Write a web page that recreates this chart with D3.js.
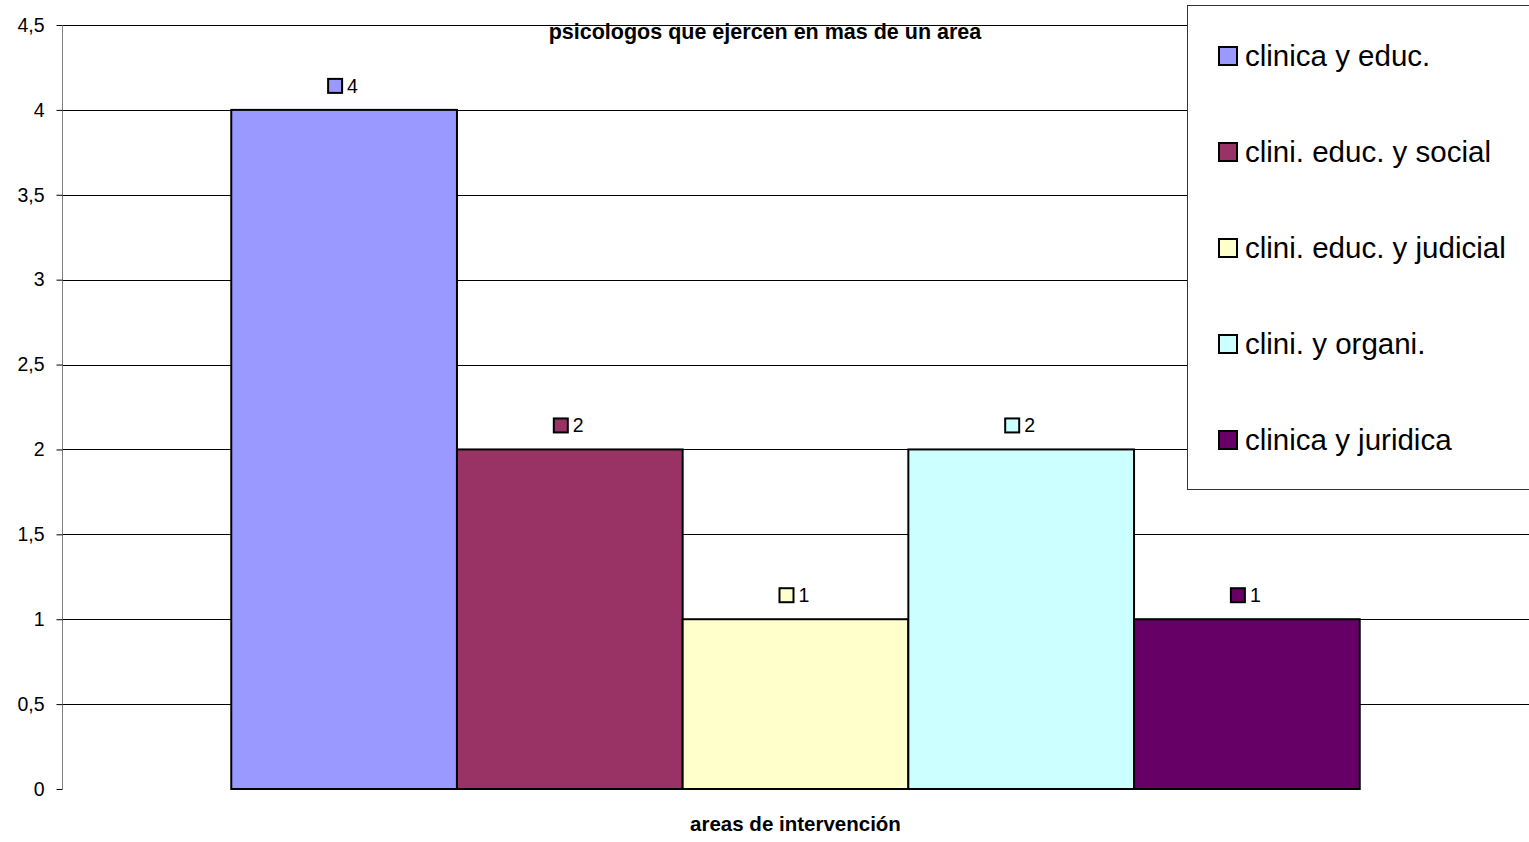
<!DOCTYPE html>
<meta charset="utf-8">
<title>psicologos que ejercen en mas de un area</title>
<style>
  body { margin: 0; background: #fff; }
  text { font-family: "Liberation Sans", Arial, sans-serif; }
</style>
<body>
<script src="https://cdn.jsdelivr.net/npm/d3@7"></script>
<script>

const categories = ["areas de intervención"];
const seriesNames = ["clinica y educ.", "clini. educ. y social", "clini. educ. y judicial", "clini. y organi.", "clinica y juridica"];
const seriesValues = [4, 2, 1, 2, 1];
const seriesColors = ["#9999ff", "#993366", "#ffffcc", "#ccffff", "#660066"];
const yTicks = [0, 0.5, 1, 1.5, 2, 2.5, 3, 3.5, 4, 4.5];

const width = 1529, height = 842;
const margin = { top: 25, right: 0, bottom: 53, left: 62 };
const font = "'Liberation Sans', Arial, sans-serif";

const svg = d3.select("body").append("svg")
    .attr("width", width)
    .attr("height", height);

const x0 = d3.scaleBand()
    .domain(categories)
    .range([margin.left, width - margin.right])
    .paddingInner(0)
    .paddingOuter(0.15);

const x1 = d3.scaleBand()
    .domain(seriesNames)
    .range([0, x0.bandwidth()]);

const y = d3.scaleLinear()
    .domain([0, 4.5])
    .range([height - margin.bottom, margin.top]);

const fmt = d => String(d).replace(".", ",");

// gridlines
svg.append("g")
  .selectAll("line")
  .data(yTicks.filter(d => d > 0))
  .join("line")
    .attr("x1", margin.left)
    .attr("x2", width)
    .attr("y1", d => Math.round(y(d)) + 0.5)
    .attr("y2", d => Math.round(y(d)) + 0.5)
    .attr("stroke", "#000");

// y axis
const yAxis = svg.append("g")
    .attr("transform", `translate(${margin.left + 0.5},0)`)
    .call(d3.axisLeft(y).tickValues(yTicks).tickFormat(fmt).tickSize(6).tickPadding(12));
yAxis.attr("font-family", font);
yAxis.select(".domain").attr("stroke", "#808080").attr("d", `M0,${y(4.5)}V${y(0)}`);
yAxis.selectAll(".tick line").attr("stroke", "#000");
yAxis.selectAll(".tick text").attr("font-size", 19.5).attr("fill", "#000");

// bars
const group = svg.append("g")
    .selectAll("g")
    .data(categories)
    .join("g")
    .attr("transform", d => `translate(${x0(d)},0)`);

const barData = seriesNames.map((name, i) => ({ name, value: seriesValues[i], color: seriesColors[i] }));

group.selectAll("rect")
  .data(barData)
  .join("rect")
    .attr("x", d => x1(d.name))
    .attr("y", d => y(d.value))
    .attr("width", x1.bandwidth())
    .attr("height", d => y(0) - y(d.value))
    .attr("fill", d => d.color)
    .attr("stroke", "#000")
    .attr("stroke-width", 2);

// value labels with legend key
const labels = group.selectAll("g.lbl")
  .data(barData)
  .join("g")
    .attr("class", "lbl")
    .attr("transform", d => `translate(${x1(d.name) + x1.bandwidth() / 2},${y(d.value) - 24})`);

labels.append("rect")
    .attr("x", -16)
    .attr("y", -7)
    .attr("width", 14)
    .attr("height", 14)
    .attr("fill", d => d.color)
    .attr("stroke", "#000")
    .attr("stroke-width", 2);

labels.append("text")
    .attr("x", 3)
    .attr("y", 7)
    .attr("font-size", 19.5)
    .text(d => d.value);

// title
svg.append("text")
    .attr("x", 765)
    .attr("y", 39)
    .attr("text-anchor", "middle")
    .attr("font-size", 21.5)
    .attr("font-weight", "bold")
    .text("psicologos que ejercen en mas de un area");

// axis title
svg.append("text")
    .attr("x", x0(categories[0]) + x0.bandwidth() / 2)
    .attr("y", 831)
    .attr("text-anchor", "middle")
    .attr("font-size", 20.5)
    .attr("font-weight", "bold")
    .text(categories[0]);

// legend
const legend = svg.append("g");
legend.append("rect")
    .attr("x", 1187.5)
    .attr("y", 5.5)
    .attr("width", 400)
    .attr("height", 484)
    .attr("fill", "#fff")
    .attr("stroke", "#333");

const items = legend.selectAll("g.item")
  .data(barData)
  .join("g")
    .attr("class", "item")
    .attr("transform", (d, i) => `translate(1219,${56 + i * 96})`);

items.append("rect")
    .attr("x", 0)
    .attr("y", -9)
    .attr("width", 18)
    .attr("height", 18)
    .attr("fill", d => d.color)
    .attr("stroke", "#000")
    .attr("stroke-width", 2);

items.append("text")
    .attr("x", 26)
    .attr("y", 10)
    .attr("font-size", 29.5)
    .text(d => d.name);

</script>
</body>
